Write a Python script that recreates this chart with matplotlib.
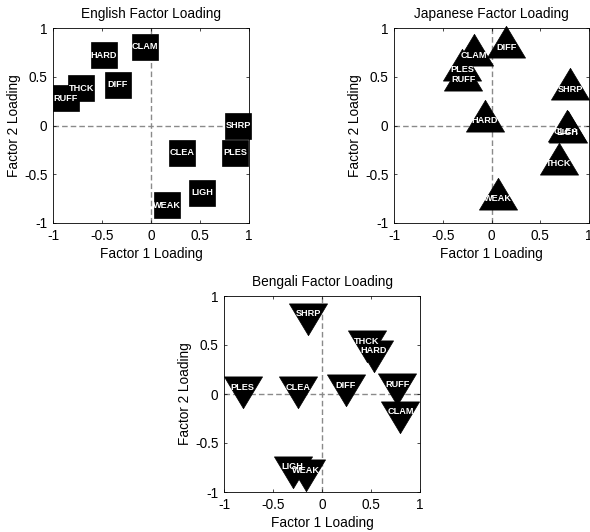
import matplotlib
matplotlib.use("Agg")
import matplotlib.pyplot as plt
from matplotlib.path import Path

plt.rcParams['font.family'] = ['Liberation Sans', 'DejaVu Sans']

labels = ['CLAM', 'CLEA', 'DIFF', 'HARD', 'LIGH', 'PLES', 'SHRP', 'WEAK', 'THCK', 'RUFF']

eng_x = [-0.06, 0.32, -0.34, -0.48, 0.52, 0.86, 0.89, 0.16, -0.71, -0.87]
eng_y = [0.81, -0.28, 0.42, 0.72, -0.69, -0.28, 0.00, -0.82, 0.38, 0.28]

jpn_x = [-0.18, 0.77, 0.15, -0.07, 0.78, -0.30, 0.81, 0.07, 0.69, -0.29]
jpn_y = [0.72, -0.06, 0.80, 0.05, -0.07, 0.57, 0.37, -0.75, -0.39, 0.47]

ben_x = [0.80, -0.24, 0.24, 0.53, -0.30, -0.81, -0.14, -0.16, 0.46, 0.77]
ben_y = [-0.18, 0.07, 0.09, 0.44, -0.74, 0.07, 0.82, -0.78, 0.54, 0.10]

ticks = [-1, -0.5, 0, 0.5, 1]
tick_labels = ['-1', '-0.5', '0', '0.5', '1']

up_tri = Path([(0, 2), (-1.8, -1), (1.8, -1), (0, 2)],
              [Path.MOVETO, Path.LINETO, Path.LINETO, Path.CLOSEPOLY])
down_tri = Path([(0, -2), (-1.8, 1), (1.8, 1), (0, -2)],
                [Path.MOVETO, Path.LINETO, Path.LINETO, Path.CLOSEPOLY])

fig = plt.figure(figsize=(5.9, 5.32), dpi=100)

panels = [
    ([53 / 590, 1 - 223 / 532, 196 / 590, 195 / 532], eng_x, eng_y, 's', 19, 'English Factor Loading'),
    ([394 / 590, 1 - 223 / 532, 195 / 590, 195 / 532], jpn_x, jpn_y, up_tri, 30.5, 'Japanese Factor Loading'),
    ([224 / 590, 1 - 492 / 532, 196 / 590, 196 / 532], ben_x, ben_y, down_tri, 30.5, 'Bengali Factor Loading'),
]

for rect, xs, ys, marker, ms, title in panels:
    ax = fig.add_axes(rect)
    ax.set_xlim(-1, 1)
    ax.set_ylim(-1, 1)
    ax.axhline(0, color='#8a8a8a', lw=1.0, ls=(0, (4, 2.2)), zorder=1)
    ax.axvline(0, color='#8a8a8a', lw=1.0, ls=(0, (4, 2.2)), zorder=1)
    for x, y in zip(xs, ys):
        ax.plot([x], [y], marker=marker, ms=ms, mfc='black', mec='black',
                mew=0.5, ls='none', clip_on=False, zorder=3)
    for x, y, lab in zip(xs, ys, labels):
        ax.text(x, y, lab, color='white', fontsize=6.6, fontweight='bold',
                ha='center', va='center', zorder=4, clip_on=False)
    ax.set_xticks(ticks)
    ax.set_xticklabels(tick_labels)
    ax.set_yticks(ticks)
    ax.set_yticklabels(tick_labels)
    ax.tick_params(direction='in', length=2.5, width=0.5, top=True, right=True,
                   labelsize=9.8, pad=4)
    for sp in ax.spines.values():
        sp.set_linewidth(0.6)
        sp.set_color('black')
    ax.set_title(title, fontsize=9.8, pad=7)
    ax.set_xlabel('Factor 1 Loading', fontsize=9.8, labelpad=3)
    ax.set_ylabel('Factor 2 Loading', fontsize=9.8, labelpad=2)

fig.savefig('out.png', dpi=100)
